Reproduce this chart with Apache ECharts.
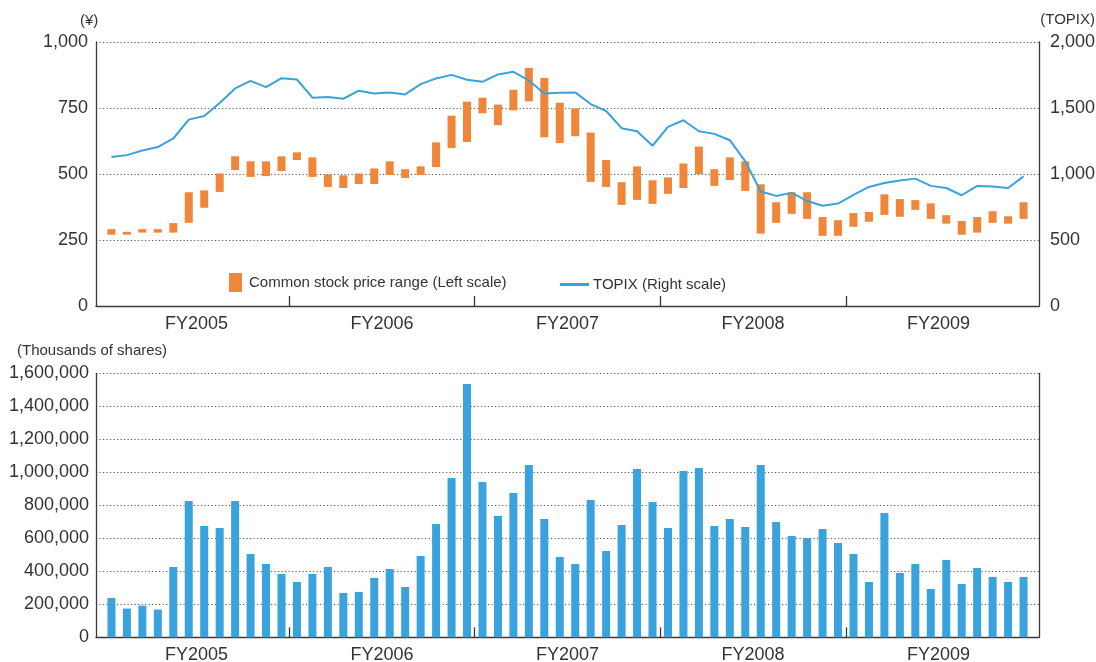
<!DOCTYPE html>
<html>
<head>
<meta charset="utf-8">
<title>Stock price range, TOPIX and trading volume</title>
<script src="https://cdn.jsdelivr.net/npm/echarts@6/dist/echarts.min.js"></script>
<style>
  html, body { margin: 0; padding: 0; background: #fff; }
  #chart { width: 1096px; height: 662px; }
</style>
</head>
<body>
<div id="chart"></div>
<script>
// Fiscal years shown on the horizontal axes (12 monthly points each, April–March)
const fiscalYears = ['FY2005', 'FY2006', 'FY2007', 'FY2008', 'FY2009'];

// Monthly common stock price range (yen)
const priceHigh = [
  291, 281, 291, 291, 314, 431, 438, 502, 567, 548, 548, 567,
  582, 563, 499, 495, 502, 521, 548, 518, 529, 620, 721, 774,
  789, 763, 819, 902, 864, 770, 748, 657, 553, 469, 529, 476,
  487, 540, 604, 518, 563, 548, 461, 393, 431, 431, 337, 325,
  352, 356, 423, 405, 401, 389, 344, 322, 337, 359, 340, 393
];
const priceLow = [
  270, 270, 278, 278, 278, 315, 372, 432, 515, 489, 492, 511,
  553, 489, 451, 447, 462, 462, 496, 485, 496, 526, 598, 621,
  730, 685, 741, 775, 639, 617, 643, 470, 451, 383, 402, 387,
  425, 447, 500, 455, 477, 436, 274, 315, 349, 330, 266, 266,
  300, 319, 345, 338, 364, 330, 312, 270, 278, 315, 312, 330
];

// Monthly TOPIX close
const topix = [
  1128, 1143, 1178, 1204, 1269, 1412, 1440, 1538, 1648, 1706, 1658, 1726,
  1716, 1578, 1583, 1570, 1631, 1610, 1618, 1603, 1681, 1724, 1751, 1714,
  1698, 1754, 1774, 1709, 1610, 1616, 1618, 1530, 1477, 1347, 1324, 1214,
  1357, 1407, 1324, 1304, 1256, 1095, 867, 834, 857, 796, 759, 776,
  842, 902, 932, 950, 965, 910, 894, 839, 910, 905, 894, 982
];

// Monthly trading volume (thousands of shares)
const volume = [
  238000, 174000, 192000, 168000, 426000, 826000, 675000, 663000, 826000, 505000, 444000, 384000,
  335000, 384000, 426000, 269000, 275000, 360000, 414000, 305000, 493000, 687000, 966000, 1535000,
  941000, 735000, 875000, 1044000, 717000, 487000, 444000, 832000, 523000, 681000, 1020000, 820000,
  663000, 1008000, 1026000, 675000, 717000, 669000, 1044000, 699000, 614000, 602000, 657000, 572000,
  505000, 335000, 754000, 390000, 444000, 293000, 469000, 323000, 420000, 366000, 335000, 366000
];

// Tick labels
const leftPriceTicks = [0, 250, 500, 750, 1000];
const rightTopixTicks = [0, 500, 1000, 1500, 2000];
const volumeTicks = [0, 200000, 400000, 600000, 800000, 1000000, 1200000, 1400000, 1600000];

const PRICE_NAME = 'Common stock price range (Left scale)';
const TOPIX_NAME = 'TOPIX (Right scale)';
const ORANGE = '#f0863a';
const BLUE = '#3aa2dc';
const TEXT = '#333333';
const AXIS = '#3a3a3a';
const FONT = '"Liberation Sans", Arial, Helvetica, sans-serif';

const monthsPerYear = 12;
const monthCount = fiscalYears.length * monthsPerYear;

// Year boundaries fall between months; year labels sit in the middle of each year
const yearBoundaries = [];
for (let y = 1; y < fiscalYears.length; y++) yearBoundaries.push(y * monthsPerYear - 0.5);
const yearCenters = fiscalYears.map((_, y) => y * monthsPerYear + (monthsPerYear - 1) / 2);

const priceData = priceHigh.map((h, i) => [i, priceLow[i], h]);
const topixData = topix.map((v, i) => [i, v]);
const volumeData = volume.map((v, i) => [i, v]);

const fmt = v => Number(v).toLocaleString('en-US');

function monthAxis(gridIndex) {
  return {
    type: 'value',
    gridIndex: gridIndex,
    min: -1,
    max: monthCount,
    axisLine: { show: true, onZero: false, lineStyle: { color: AXIS, width: 1.3 } },
    axisTick: {
      show: true, inside: true, length: 10,
      customValues: yearBoundaries,
      lineStyle: { color: AXIS, width: 1.3 }
    },
    axisLabel: {
      show: true,
      customValues: yearCenters,
      margin: 9,
      fontSize: 18,
      fontFamily: FONT,
      color: TEXT,
      formatter: v => fiscalYears[Math.round((v - (monthsPerYear - 1) / 2) / monthsPerYear)]
    },
    splitLine: { show: false }
  };
}

const dottedGrid = {
  show: true,
  showMinLine: false,
  lineStyle: { color: '#555', width: 1, type: [1.2, 2.3] }
};

const labelStyle = { fontSize: 18, fontFamily: FONT, color: TEXT };
const frameLine = { show: true, onZero: false, lineStyle: { color: AXIS, width: 1.3 } };

const option = {
  animation: false,
  backgroundColor: '#ffffff',
  textStyle: { fontFamily: FONT },
  title: [
    { text: '(¥)', left: 80, top: 13, padding: 0,
      textStyle: { fontSize: 15, fontWeight: 'normal', color: TEXT, fontFamily: FONT } },
    { text: '(TOPIX)', right: 1, top: 12, padding: 0,
      textStyle: { fontSize: 15, fontWeight: 'normal', color: TEXT, fontFamily: FONT } },
    { text: '(Thousands of shares)', left: 17, top: 343, padding: 0,
      textStyle: { fontSize: 15, fontWeight: 'normal', color: TEXT, fontFamily: FONT } }
  ],
  legend: [
    {
      data: [PRICE_NAME], left: 229, top: 273, padding: 0,
      icon: 'rect', itemWidth: 13, itemHeight: 19, selectedMode: false,
      textStyle: { fontSize: 15, color: TEXT, fontFamily: FONT, padding: [0, 0, 0, 2] }
    },
    {
      data: [TOPIX_NAME], left: 560, top: 277, padding: 0,
      icon: 'rect', itemWidth: 29, itemHeight: 3, selectedMode: false,
      textStyle: { fontSize: 15, color: TEXT, fontFamily: FONT, padding: [0, 0, 0, -1] }
    }
  ],
  grid: [
    { left: 96, right: 57, top: 42, height: 264, outerBoundsMode: 'none', containLabel: false },
    { left: 96, right: 57, top: 373.3, height: 264, outerBoundsMode: 'none', containLabel: false }
  ],
  xAxis: [monthAxis(0), monthAxis(1)],
  yAxis: [
    {
      type: 'value', gridIndex: 0, position: 'left',
      min: leftPriceTicks[0], max: leftPriceTicks[leftPriceTicks.length - 1],
      interval: leftPriceTicks[1] - leftPriceTicks[0],
      axisLine: frameLine,
      axisTick: { show: false },
      axisLabel: Object.assign({ margin: 8, formatter: fmt }, labelStyle),
      splitLine: dottedGrid
    },
    {
      type: 'value', gridIndex: 0, position: 'right',
      min: rightTopixTicks[0], max: rightTopixTicks[rightTopixTicks.length - 1],
      interval: rightTopixTicks[1] - rightTopixTicks[0],
      axisLine: frameLine,
      axisTick: { show: false },
      axisLabel: Object.assign({ margin: 11, formatter: fmt }, labelStyle),
      splitLine: { show: false }
    },
    {
      type: 'value', gridIndex: 1, position: 'left',
      min: volumeTicks[0], max: volumeTicks[volumeTicks.length - 1],
      interval: volumeTicks[1] - volumeTicks[0],
      axisLine: frameLine,
      axisTick: { show: false },
      axisLabel: Object.assign({ margin: 7, formatter: fmt }, labelStyle),
      splitLine: dottedGrid
    },
    {
      type: 'value', gridIndex: 1, position: 'right',
      min: volumeTicks[0], max: volumeTicks[volumeTicks.length - 1],
      interval: volumeTicks[1] - volumeTicks[0],
      axisLine: frameLine,
      axisTick: { show: false },
      axisLabel: { show: false },
      splitLine: { show: false }
    }
  ],
  series: [
    {
      name: PRICE_NAME,
      type: 'custom',
      xAxisIndex: 0, yAxisIndex: 0,
      itemStyle: { color: ORANGE },
      encode: { x: 0, y: [1, 2] },
      data: priceData,
      renderItem: function (params, api) {
        const x = api.value(0);
        const top = api.coord([x, api.value(2)]);
        const bottom = api.coord([x, api.value(1)]);
        const w = 8;
        return {
          type: 'rect',
          shape: { x: top[0] - w / 2, y: top[1], width: w, height: bottom[1] - top[1] },
          style: { fill: ORANGE }
        };
      },
      z: 2
    },
    {
      name: TOPIX_NAME,
      type: 'line',
      xAxisIndex: 0, yAxisIndex: 1,
      data: topixData,
      symbol: 'none',
      lineStyle: { color: BLUE, width: 2 },
      itemStyle: { color: BLUE },
      z: 3
    },
    {
      name: 'Trading volume',
      type: 'bar',
      xAxisIndex: 1, yAxisIndex: 2,
      data: volumeData,
      barWidth: 8,
      itemStyle: { color: BLUE }
    }
  ]
};

const chart = echarts.init(document.getElementById('chart'), null, { renderer: 'canvas' });
chart.setOption(option);
</script>
</body>
</html>
